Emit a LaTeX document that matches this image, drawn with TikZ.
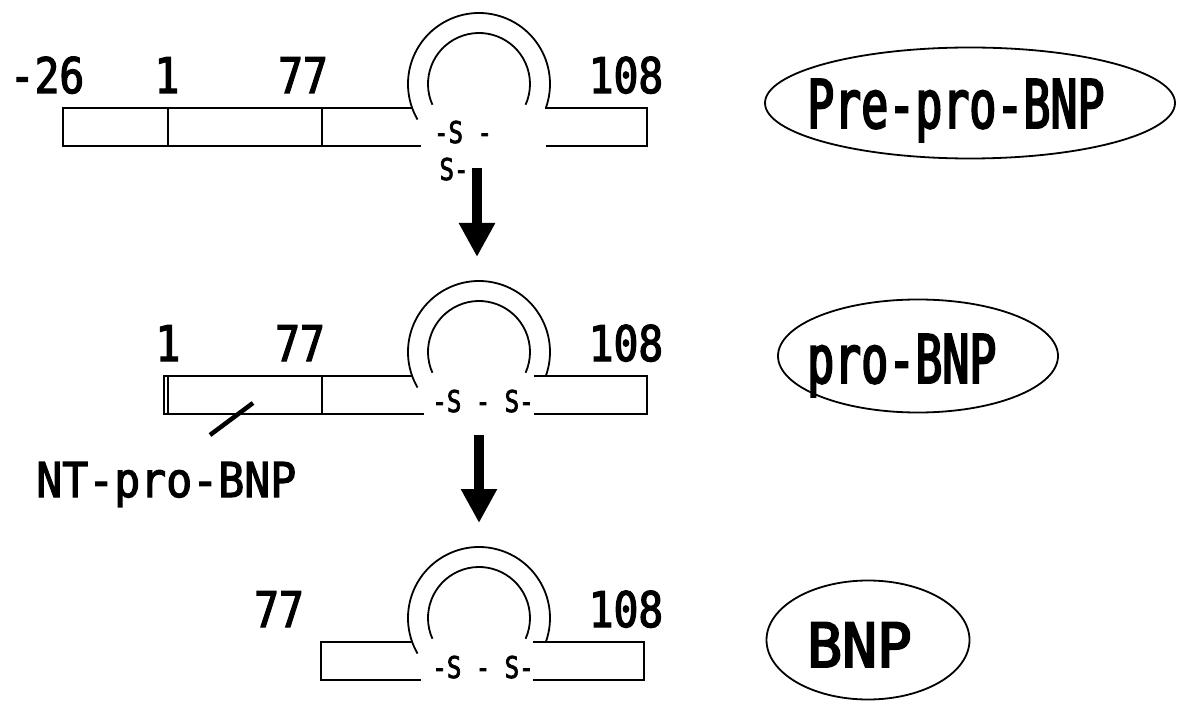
\documentclass[tikz,border=0pt]{standalone}
\usepackage{fontspec}
\usetikzlibrary{arrows.meta,shapes.geometric}
\newfontfamily\numfont[FakeStretch=0.84, FakeBold=2.6]{DejaVu Sans Mono}
\newfontfamily\ntfont[FakeStretch=0.9, FakeBold=2.4]{DejaVu Sans Mono}
\newfontfamily\namefont[FakeStretch=0.67, FakeBold=2.8]{DejaVu Sans Mono}
\newfontfamily\bnpfont[FakeStretch=0.95, FakeBold=3.2]{DejaVu Sans Mono}
\newfontfamily\ssfont[FakeStretch=0.8, FakeBold=2.4]{DejaVu Sans Mono}

\tikzset{
  chain/.style={line width=1.6, line join=miter},
  residue/.style={font=\numfont\fontsize{49}{49}\selectfont, inner sep=0, anchor=base},
  bridge/.style={font=\ssfont\fontsize{30}{30}\selectfont, inner sep=0, anchor=base},
  formname/.style={font=\namefont\fontsize{67}{67}\selectfont, inner sep=0, anchor=base west},
  formbox/.style={draw, ellipse, line width=1.8, inner sep=0, outer sep=0},
  bigarrow/.style={line width=10, -{Triangle[width=34pt,length=34pt]}},
  sloop/.pic={
    \draw[line width=1.8] ([shift={(0,24)}]210:71) arc[start angle=210, end angle=-20, radius=71];
    \draw[line width=1.8] ([shift={(0,24)}]204:51) arc[start angle=204, end angle=-24, radius=51];
  }
}

\begin{document}
\begin{tikzpicture}[x=1pt, y=1pt]
\useasboundingbox (0,0) rectangle (1178,-703);

% ---- Pre-pro-BNP chain ----
\draw[chain] (412,-108) -- (63,-108) -- (63,-146) -- (421,-146);
\draw[chain] (168,-108) -- (168,-146);
\draw[chain] (322,-108) -- (322,-146);
\draw[chain] (545,-108) -- (647,-108) -- (647,-146) -- (546,-146);
\pic at (479,-108) {sloop};
\node[residue] (r1a) at (47,-93) {-26};
\node[residue] (r1b) at (167,-93) {1};
\node[residue] (r1c) at (303,-93) {77};
\node[residue] (r1d) at (626,-93) {108};
\node[bridge] (s1a) at (463,-143) {-S -};
\node[bridge] (s1b) at (454,-180) {S-};

% ---- pro-BNP chain ----
\draw[chain] (412,-376) -- (164,-376) -- (164,-414) -- (424,-414);
\draw[chain] (168,-376) -- (168,-414);
\draw[chain] (322,-376) -- (322,-414);
\draw[chain] (534,-376) -- (647,-376) -- (647,-414) -- (534,-414);
\pic at (479,-376) {sloop};
\node[residue] (r2b) at (168,-361) {1};
\node[residue] (r2c) at (300,-361) {77};
\node[residue] (r2d) at (626,-361) {108};
\node[bridge] (s2) at (483,-412) {-S - S-};

% NT-pro-BNP pointer and label
\coordinate (nta) at (210,-435);
\coordinate (ntb) at (253,-403);
\draw[line width=4.5] (nta) -- (ntb);
\node[font=\ntfont\fontsize{48}{48}\selectfont, inner sep=0, anchor=base west] (nt) at (36,-497) {NT-pro-BNP};

% ---- BNP chain ----
\draw[chain] (412,-642) -- (321,-642) -- (321,-680) -- (421,-680);
\draw[chain] (533,-642) -- (644,-642) -- (644,-680) -- (533,-680);
\pic at (479,-642) {sloop};
\node[residue] (r3c) at (279,-627) {77};
\node[residue] (r3d) at (626,-627) {108};
\node[bridge] (s3) at (483,-678) {-S - S-};

% ---- processing arrows ----
\coordinate (a1s) at (477,-168);
\coordinate (a1e) at (477,-257);
\coordinate (a2s) at (479,-435);
\coordinate (a2e) at (479,-523);
\draw[bigarrow] (a1s) -- (a1e);
\draw[bigarrow] (a2s) -- (a2e);

% ---- form names ----
\node[formbox, minimum width=410, minimum height=111] (e1) at (970,-103) {};
\node[formname] (n1) at (807,-128) {Pre-pro-BNP};
\node[formbox, minimum width=280, minimum height=113] (e2) at (918,-356) {};
\node[formname] (n2) at (807,-383) {pro-BNP};
\node[formbox, minimum width=203, minimum height=119] (e3) at (868,-640) {};
\node[font=\bnpfont\fontsize{61}{61}\selectfont, inner sep=0, anchor=base west] (n3) at (807,-667) {BNP};
\end{tikzpicture}
\end{document}
